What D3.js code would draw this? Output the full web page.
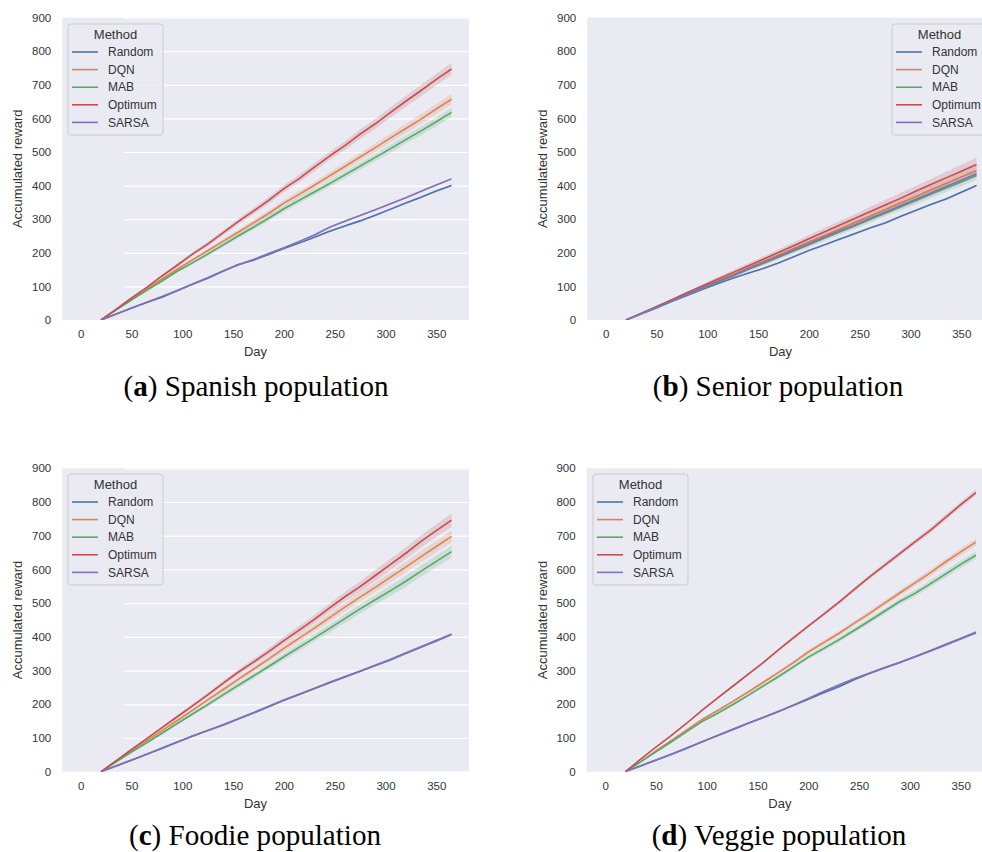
<!DOCTYPE html>
<html>
<head>
<meta charset="utf-8">
<script src="https://cdn.jsdelivr.net/npm/d3@7"></script>
<style>
  body { margin: 0; background: #ffffff; }
  svg { display: block; }
</style>
</head>
<body>
<svg id="fig" width="982" height="852"></svg>
<script>
// Sampled days of the simulation (rewards start accumulating on day 20)
const days = [20, 35, 50, 65, 80, 95, 110, 125, 140, 155, 170, 185, 200, 215, 230, 245, 260, 275, 290, 305, 320, 335, 350, 365];

const methods = ["Random", "DQN", "MAB", "Optimum", "SARSA"];
const methodColors = ["#4c72b0", "#dd8452", "#55a868", "#c44e52", "#8172b3"];
const xTickValues = [0, 50, 100, 150, 200, 250, 300, 350];
const yTickValues = [0, 100, 200, 300, 400, 500, 600, 700, 800, 900];

// (a) Spanish population: mean accumulated reward per method
const spanishRandom  = [0, 18, 36, 52, 68, 87, 106, 124, 145, 165, 178, 195, 213, 229, 246, 264, 280, 295, 312, 330, 348, 365, 384, 400];
const spanishDQN     = [0, 31, 62, 92, 122, 151, 179, 206, 234, 261, 289, 317, 348, 374, 401, 429, 457, 485, 513, 542, 570, 598, 628, 657];
const spanishMAB     = [0, 30, 59, 88, 116, 145, 170, 196, 223, 250, 276, 303, 331, 356, 381, 406, 432, 458, 484, 510, 537, 563, 590, 618];
const spanishOptimum = [0, 32, 66, 97, 131, 163, 196, 226, 259, 293, 324, 356, 391, 421, 455, 488, 519, 553, 584, 618, 651, 683, 716, 747];
const spanishSARSA   = [0, 18, 35, 53, 70, 88, 107, 126, 146, 164, 180, 198, 215, 234, 253, 276, 294, 311, 328, 346, 364, 383, 402, 420];
// (a) confidence-interval half widths
const spanishRandomCI  = [0, 0, 1, 1, 1, 1, 1, 2, 2, 2, 2, 2, 2, 2, 3, 3, 3, 3, 3, 3, 3, 3, 3, 3];
const spanishDQNCI     = [0, 1, 2, 3, 4, 5, 5, 6, 7, 7, 8, 9, 9, 10, 10, 11, 12, 12, 13, 13, 14, 15, 15, 16];
const spanishMABCI     = [0, 1, 2, 3, 3, 4, 5, 5, 6, 7, 7, 8, 8, 9, 9, 10, 10, 11, 11, 12, 12, 13, 13, 14];
const spanishOptimumCI = [0, 1, 2, 3, 4, 5, 6, 7, 7, 8, 9, 10, 10, 11, 12, 12, 13, 14, 15, 15, 16, 17, 17, 18];
const spanishSARSACI   = [0, 0, 1, 1, 1, 1, 1, 2, 2, 2, 2, 2, 2, 2, 3, 3, 3, 3, 3, 3, 3, 3, 3, 3];

// (b) Senior population
const seniorRandom  = [0, 18, 36, 55, 73, 91, 108, 124, 139, 153, 170, 188, 207, 223, 240, 257, 274, 289, 308, 326, 344, 360, 380, 400];
const seniorDQN     = [0, 19, 39, 58, 77, 97, 116, 135, 155, 174, 193, 213, 232, 251, 270, 290, 309, 328, 348, 367, 387, 406, 426, 445];
const seniorMAB     = [0, 19, 38, 56, 75, 94, 112, 131, 150, 168, 187, 205, 224, 243, 262, 280, 299, 318, 336, 355, 374, 393, 411, 430];
const seniorOptimum = [0, 20, 40, 60, 81, 101, 121, 141, 161, 181, 201, 221, 242, 262, 282, 302, 322, 342, 362, 383, 403, 423, 443, 463];
const seniorSARSA   = [0, 19, 38, 57, 76, 95, 114, 132, 151, 170, 189, 208, 227, 246, 265, 283, 302, 321, 340, 359, 378, 397, 416, 435];
const seniorRandomCI  = [0, 0, 1, 1, 1, 1, 1, 2, 2, 2, 2, 2, 2, 2, 3, 3, 3, 3, 3, 3, 3, 3, 3, 3];
const seniorDQNCI     = [0, 1, 2, 2, 3, 4, 5, 5, 6, 7, 7, 8, 9, 9, 10, 10, 11, 12, 12, 13, 13, 14, 14, 15];
const seniorMABCI     = [0, 1, 2, 2, 3, 4, 4, 5, 6, 6, 7, 7, 8, 8, 9, 9, 10, 10, 11, 11, 12, 12, 13, 13];
const seniorOptimumCI = [0, 1, 2, 3, 4, 5, 6, 7, 8, 8, 9, 10, 11, 12, 12, 13, 14, 15, 16, 16, 17, 18, 19, 20];
const seniorSARSACI   = [0, 1, 1, 2, 2, 3, 3, 3, 4, 4, 4, 5, 5, 5, 6, 6, 6, 7, 7, 7, 7, 8, 8, 8];

// (c) Foodie population
const foodieRandom  = [0, 17, 34, 52, 70, 88, 106, 122, 138, 156, 174, 193, 212, 229, 247, 264, 281, 298, 315, 332, 351, 370, 389, 407];
const foodieDQN     = [0, 31, 62, 92, 122, 152, 182, 213, 243, 274, 304, 334, 366, 396, 426, 457, 488, 518, 547, 577, 607, 638, 668, 698];
const foodieMAB     = [0, 29, 58, 86, 114, 143, 171, 199, 228, 256, 284, 312, 341, 369, 397, 425, 454, 483, 510, 537, 565, 595, 624, 653];
const foodieOptimum = [0, 33, 66, 98, 131, 163, 195, 228, 262, 295, 325, 356, 389, 420, 452, 486, 519, 549, 582, 615, 648, 683, 715, 746];
const foodieSARSA   = [0, 18, 35, 52, 69, 87, 105, 122, 139, 157, 175, 194, 213, 230, 247, 265, 282, 298, 316, 333, 352, 370, 388, 408];
const foodieRandomCI  = [0, 0, 1, 1, 1, 1, 2, 2, 2, 2, 2, 2, 3, 3, 3, 3, 3, 3, 3, 4, 4, 4, 4, 4];
const foodieDQNCI     = [0, 1, 2, 3, 4, 4, 5, 6, 7, 8, 8, 9, 10, 11, 11, 12, 13, 14, 14, 15, 16, 17, 17, 18];
const foodieMABCI     = [0, 1, 2, 3, 4, 4, 5, 6, 7, 8, 8, 9, 10, 11, 11, 12, 13, 14, 14, 15, 16, 17, 17, 18];
const foodieOptimumCI = [0, 1, 2, 3, 4, 5, 6, 6, 7, 8, 9, 10, 11, 12, 12, 13, 14, 15, 16, 17, 17, 18, 19, 20];
const foodieSARSACI   = [0, 0, 1, 1, 1, 1, 2, 2, 2, 2, 2, 2, 3, 3, 3, 3, 3, 3, 3, 4, 4, 4, 4, 4];

// (d) Veggie population
const veggieRandom  = [0, 17, 34, 51, 69, 88, 107, 125, 143, 160, 178, 196, 215, 234, 252, 273, 291, 308, 324, 341, 358, 376, 394, 412];
const veggieDQN     = [0, 30, 62, 92, 123, 154, 180, 207, 235, 264, 293, 323, 355, 383, 410, 440, 469, 500, 530, 560, 590, 622, 652, 681];
const veggieMAB     = [0, 29, 59, 88, 118, 148, 172, 198, 225, 253, 281, 310, 340, 365, 391, 419, 447, 476, 505, 529, 557, 586, 615, 642];
const veggieOptimum = [0, 37, 73, 107, 143, 181, 217, 252, 287, 322, 360, 396, 432, 467, 502, 540, 577, 612, 647, 682, 716, 754, 792, 828];
const veggieSARSA   = [0, 18, 35, 52, 70, 88, 106, 124, 142, 160, 178, 197, 217, 238, 257, 276, 292, 308, 324, 341, 359, 377, 395, 414];
const veggieRandomCI  = [0, 0, 1, 1, 1, 1, 1, 2, 2, 2, 2, 2, 2, 3, 3, 3, 3, 3, 3, 3, 3, 4, 4, 4];
const veggieDQNCI     = [0, 1, 1, 2, 2, 3, 3, 4, 4, 5, 5, 6, 6, 7, 7, 7, 8, 8, 9, 9, 10, 10, 11, 11];
const veggieMABCI     = [0, 1, 1, 2, 2, 3, 3, 4, 4, 5, 5, 6, 6, 7, 7, 7, 8, 8, 9, 9, 10, 10, 11, 11];
const veggieOptimumCI = [0, 1, 1, 2, 2, 3, 3, 3, 4, 4, 4, 5, 5, 5, 6, 6, 6, 7, 7, 7, 8, 8, 8, 9];
const veggieSARSACI   = [0, 0, 1, 1, 1, 1, 1, 2, 2, 2, 2, 2, 2, 3, 3, 3, 3, 3, 3, 3, 3, 4, 4, 4];

const captionLetters = ["a", "b", "c", "d"];
const captionTexts = ["Spanish population", "Senior population", "Foodie population", "Veggie population"];

// Panel geometry (pixels)
const W = 982, H = 852;
const plotW = 406.8;
const xDomain = [-18.2, 382.2];
const yDomain = [0, 900];

const panels = [
  { left: 62.2,  top: 17.6,  bottom: 320.0, legendX: 68,  legendY: 24,
    series: [spanishRandom, spanishDQN, spanishMAB, spanishOptimum, spanishSARSA],
    ci: [spanishRandomCI, spanishDQNCI, spanishMABCI, spanishOptimumCI, spanishSARSACI],
    capX: 256, capY: 396 },
  { left: 587.2, top: 17.6,  bottom: 320.0, legendX: 892, legendY: 24,
    series: [seniorRandom, seniorDQN, seniorMAB, seniorOptimum, seniorSARSA],
    ci: [seniorRandomCI, seniorDQNCI, seniorMABCI, seniorOptimumCI, seniorSARSACI],
    capX: 778, capY: 396 },
  { left: 62.2,  top: 468.3, bottom: 771.7, legendX: 68,  legendY: 474,
    series: [foodieRandom, foodieDQN, foodieMAB, foodieOptimum, foodieSARSA],
    ci: [foodieRandomCI, foodieDQNCI, foodieMABCI, foodieOptimumCI, foodieSARSACI],
    capX: 255, capY: 845 },
  { left: 586.6, top: 468.3, bottom: 771.7, legendX: 593, legendY: 474,
    series: [veggieRandom, veggieDQN, veggieMAB, veggieOptimum, veggieSARSA],
    ci: [veggieRandomCI, veggieDQNCI, veggieMABCI, veggieOptimumCI, veggieSARSACI],
    capX: 779, capY: 845 }
];

const sans = "'Liberation Sans', Arial, Helvetica, sans-serif";
const serif = "'Liberation Serif', 'Times New Roman', serif";
const textColor = "#333333";

const svg = d3.select("#fig");
svg.append("rect").attr("width", W).attr("height", H).attr("fill", "#ffffff");

const defs = svg.append("defs");

panels.forEach((p, pi) => {
  const x = d3.scaleLinear().domain(xDomain).range([p.left, p.left + plotW]);
  const y = d3.scaleLinear().domain(yDomain).range([p.bottom, p.top]);
  const visW = Math.min(plotW, W - p.left);
  const plotH = p.bottom - p.top;

  const clipId = "clip" + pi;
  defs.append("clipPath").attr("id", clipId)
    .append("rect").attr("x", p.left).attr("y", p.top).attr("width", visW).attr("height", plotH);

  const g = svg.append("g");

  // background
  g.append("rect").attr("x", p.left).attr("y", p.top)
    .attr("width", visW).attr("height", plotH).attr("fill", "#eaeaf2");

  // grid lines
  const gridX = g.append("g").attr("clip-path", `url(#${clipId})`)
    .attr("transform", `translate(0,${p.bottom})`)
    .call(d3.axisBottom(x).tickValues(xTickValues).tickSize(-plotH).tickFormat(""));
  const gridY = g.append("g").attr("clip-path", `url(#${clipId})`)
    .attr("transform", `translate(${p.left},0)`)
    .call(d3.axisLeft(y).tickValues(yTickValues).tickSize(-plotW).tickFormat(""));
  [gridX, gridY].forEach(gg => {
    gg.select(".domain").remove();
    gg.selectAll(".tick line").attr("stroke", "#ffffff").attr("stroke-width", 1.2);
  });

  // tick labels
  const axX = g.append("g").attr("transform", `translate(0,${p.bottom})`)
    .call(d3.axisBottom(x).tickValues(xTickValues).tickSize(0).tickPadding(10));
  const axY = g.append("g").attr("transform", `translate(${p.left},0)`)
    .call(d3.axisLeft(y).tickValues(yTickValues).tickSize(0).tickPadding(11));
  [axX, axY].forEach(a => {
    a.select(".domain").remove();
    a.selectAll("text").attr("fill", textColor)
      .style("font-family", sans).style("font-size", "11.5px");
  });

  // axis titles
  g.append("text").attr("x", x(172)).attr("y", p.bottom + 36)
    .attr("text-anchor", "middle").attr("fill", textColor)
    .style("font-family", sans).style("font-size", "13px").text("Day");
  g.append("text")
    .attr("transform", `translate(${p.left - 40},${(p.top + p.bottom) / 2}) rotate(-90)`)
    .attr("text-anchor", "middle").attr("fill", textColor)
    .style("font-family", sans).style("font-size", "13px").text("Accumulated reward");

  // bands and lines
  const plot = g.append("g").attr("clip-path", `url(#${clipId})`);
  const area = d3.area()
    .x(d => x(d.day)).y0(d => y(d.v - d.ci)).y1(d => y(d.v + d.ci));
  const line = d3.line().x(d => x(d.day)).y(d => y(d.v));

  methods.forEach((m, mi) => {
    const pts = days.map((day, i) => ({ day, v: p.series[mi][i], ci: p.ci[mi][i] }));
    plot.append("path").datum(pts).attr("d", area)
      .attr("fill", methodColors[mi]).attr("fill-opacity", 0.2).attr("stroke", "none");
    plot.append("path").datum(pts).attr("d", line)
      .attr("fill", "none").attr("stroke", methodColors[mi])
      .attr("stroke-width", 1.6).attr("stroke-linejoin", "round");
  });

  // legend
  const lg = svg.append("g").attr("transform", `translate(${p.legendX},${p.legendY})`);
  lg.append("rect").attr("x", 0).attr("y", 0).attr("width", 95).attr("height", 111)
    .attr("rx", 3).attr("ry", 3)
    .attr("fill", "#eaeaf2").attr("fill-opacity", 0.85)
    .attr("stroke", "#cccccc").attr("stroke-width", 1);
  lg.append("text").attr("x", 47.5).attr("y", 14.5).attr("text-anchor", "middle")
    .attr("fill", textColor).style("font-family", sans).style("font-size", "13px").text("Method");
  methods.forEach((m, mi) => {
    const cy = 28 + mi * 17.6;
    lg.append("line").attr("x1", 4).attr("x2", 30).attr("y1", cy).attr("y2", cy)
      .attr("stroke", methodColors[mi]).attr("stroke-width", 1.6);
    lg.append("text").attr("x", 40).attr("y", cy + 4.2)
      .attr("fill", textColor).style("font-family", sans).style("font-size", "12px").text(m);
  });

  // caption
  const cap = svg.append("text").attr("class", "caption")
    .attr("x", p.capX).attr("y", p.capY).attr("text-anchor", "middle")
    .attr("fill", "#000000").style("font-family", serif).style("font-size", "27px");
  cap.append("tspan").text("(");
  cap.append("tspan").attr("font-weight", "bold").text(captionLetters[pi]);
  cap.append("tspan").text(") " + captionTexts[pi]);
});

// size captions so the first one spans its printed width
const caps = svg.selectAll("text.caption");
const w0 = caps.node().getComputedTextLength();
if (w0 > 0) {
  const fs = 27 * 265 / w0;
  caps.style("font-size", fs.toFixed(2) + "px");
}
</script>
</body>
</html>
